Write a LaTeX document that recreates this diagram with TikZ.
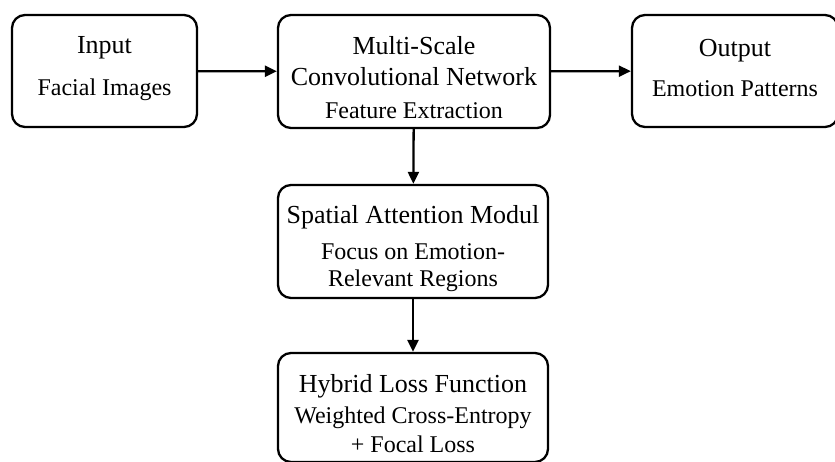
\documentclass[tikz,border=0pt]{standalone}
\usepackage{fontspec}
\setmainfont{Liberation Serif}
\usetikzlibrary{arrows.meta,positioning}

\newcommand{\headfont}{\fontsize{26}{31}\selectfont}
\newcommand{\subfont}{\fontsize{24}{27}\selectfont}
% invisible struts to move the text inside a box
\newcommand{\uppad}[1]{\rule{0pt}{#1}}
\newcommand{\lowpad}[1]{\rule[-#1]{0pt}{0pt}}

\begin{document}
\begin{tikzpicture}
	[x=1pt,y=-1pt,
	box/.style={shape=rectangle,rounded corners=13pt,draw=black,line width=2.3pt,
		align=center,inner sep=0pt,minimum width=270pt,minimum height=113pt,
		font=\subfont},
	arc/.style={-{Triangle[length=12pt,width=11pt]},line width=2.3pt}]
	\useasboundingbox (0,0) rectangle (835,461);
	
	\node (input) [box,minimum width=185pt,minimum height=112pt] at (104.5,71)
		{\headfont Input\\[15pt]Facial Images\lowpad{10pt}};
	\node (msconv) [box,minimum width=272pt] at (414,71.5)
		{\headfont\uppad{31pt}Multi-Scale\\[4pt]\headfont Convolutional Network\\[6pt]Feature Extraction};
	\node (output) [box,minimum width=206pt,minimum height=112pt] at (735,71)
		{\headfont Output\\[13pt]Emotion Patterns\lowpad{7pt}};
	
	\node (attn) [box] at (413,241.5)
		{\headfont\uppad{32pt}Spatial Attention Modul\\[9pt]Focus on Emotion-\\Relevant Regions};
	\node (loss) [box,minimum height=109pt] at (413,407.5)
		{\headfont\uppad{30pt}Hybrid Loss Function\\[4pt]Weighted Cross-Entropy\\[2pt]+ Focal Loss};
	
	\draw [arc] (input) to (msconv);
	\draw [arc] (msconv) to (output);
	\draw [arc] (msconv) to (attn);
	\draw [arc] (attn) to (loss);
\end{tikzpicture}
\end{document}
